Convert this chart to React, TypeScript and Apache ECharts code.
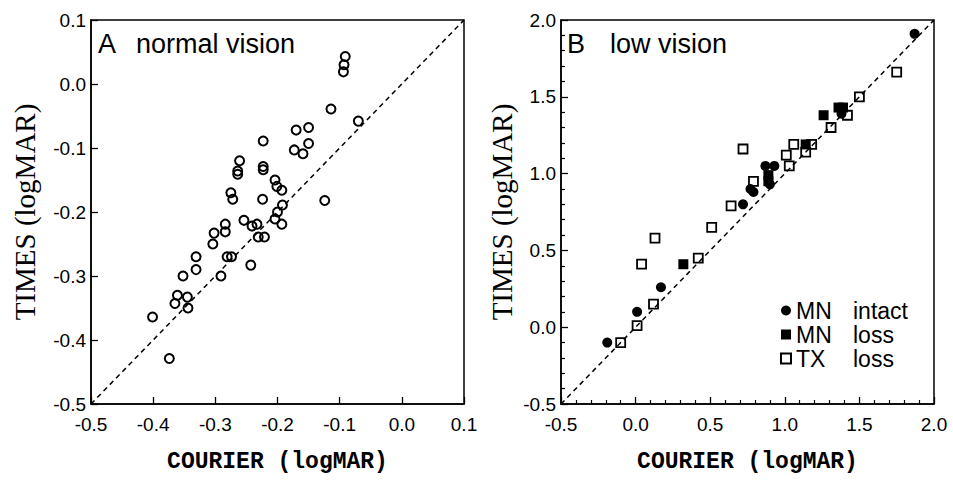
import React, { useEffect, useRef } from "react";
import * as echarts from "echarts";

// Panel A: normal vision
const normalCourier = [-0.091, -0.093, -0.094, -0.114, -0.070, -0.170, -0.150, -0.223, -0.173, -0.159, -0.150, -0.261, -0.264, -0.264, -0.223, -0.223, -0.204, -0.201, -0.193, -0.275, -0.272, -0.224, -0.124, -0.192, -0.200, -0.204, -0.193, -0.254, -0.241, -0.233, -0.231, -0.221, -0.302, -0.284, -0.284, -0.304, -0.281, -0.274, -0.331, -0.331, -0.243, -0.291, -0.352, -0.361, -0.345, -0.365, -0.344, -0.401, -0.374];
const normalTimes = [0.043, 0.030, 0.019, -0.039, -0.058, -0.072, -0.068, -0.089, -0.103, -0.109, -0.093, -0.120, -0.136, -0.141, -0.129, -0.134, -0.150, -0.160, -0.166, -0.170, -0.180, -0.180, -0.182, -0.189, -0.200, -0.211, -0.219, -0.213, -0.222, -0.219, -0.239, -0.239, -0.233, -0.219, -0.231, -0.250, -0.270, -0.270, -0.270, -0.290, -0.283, -0.300, -0.300, -0.330, -0.333, -0.343, -0.350, -0.364, -0.429];

// Panel B: low vision
const mnIntactCourier = [1.87, 0.87, 0.93, 0.90, 0.77, 0.79, 0.72, 1.38, 0.17, 0.01, -0.19];
const mnIntactTimes = [1.91, 1.05, 1.05, 0.93, 0.90, 0.88, 0.80, 1.39, 0.26, 0.10, -0.10];
const mnLossCourier = [1.26, 1.36, 1.39, 1.14, 0.89, 0.89, 0.32];
const mnLossTimes = [1.38, 1.43, 1.43, 1.19, 0.99, 0.95, 0.41];
const txLossCourier = [1.75, 1.50, 1.42, 1.31, 1.18, 1.06, 1.14, 1.01, 1.03, 0.72, 0.79, 0.64, 0.51, 0.13, 0.04, 0.42, 0.12, 0.01, -0.10];
const txLossTimes = [1.66, 1.50, 1.38, 1.30, 1.19, 1.19, 1.14, 1.12, 1.05, 1.16, 0.95, 0.79, 0.65, 0.58, 0.41, 0.45, 0.15, 0.01, -0.10];

// Axis ranges and identity lines
const rangeA = [-0.5, 0.1];
const rangeB = [-0.5, 2.0];
const identityA = [[-0.5, -0.5], [0.1, 0.1]];
const identityB = [[-0.5, -0.5], [2.0, 2.0]];

const xTitle = "COURIER (logMAR)";
const yTitle = "TIMES (logMAR)";

const zip = (xs: number[], ys: number[]) => xs.map((x, i) => [x, ys[i]]);

const SANS = "'Liberation Sans', Arial, Helvetica, sans-serif";

export default function App() {
  const ref = useRef<HTMLDivElement>(null);
  useEffect(() => {
    if (!ref.current) return;
    const chart = echarts.init(ref.current, null, { renderer: "svg" });
    const label = (margin: number) => ({
      color: "#000",
      fontFamily: SANS,
      fontSize: 19,
      margin,
      formatter: (v: number) => v.toFixed(1),
    });
    const axisCommon = (min: number, max: number, interval: number, minor: boolean) => ({
      type: "value",
      min,
      max,
      interval,
      axisLine: { show: true, onZero: false, lineStyle: { color: "#000", width: 1.5 } },
      axisTick: { show: true, inside: true, length: 7, lineStyle: { color: "#000", width: 1.3 } },
      minorTick: minor
        ? { show: true, splitNumber: 5, length: 4, lineStyle: { color: "#000", width: 1.2 } }
        : { show: false },
      splitLine: { show: false },
    });
    const xAxis = (gridIndex: number, r: number[], interval: number, minor: boolean) => ({
      ...axisCommon(r[0], r[1], interval, minor),
      gridIndex,
      name: xTitle,
      nameLocation: "middle",
      nameGap: 46,
      nameTextStyle: {
        color: "#000",
        fontFamily: "'Liberation Mono', 'Courier New', monospace",
        fontWeight: "bold",
        fontSize: 23,
      },
      axisLabel: label(11),
    });
    const yAxis = (gridIndex: number, r: number[], interval: number, minor: boolean, gap: number) => ({
      ...axisCommon(r[0], r[1], interval, minor),
      gridIndex,
      name: yTitle,
      nameLocation: "middle",
      nameRotate: 90,
      nameGap: gap,
      nameTextStyle: {
        color: "#000",
        fontFamily: "'Liberation Serif', 'Times New Roman', serif",
        fontSize: 29,
      },
      axisLabel: label(5),
    });
    const legendRich = {
      a: { fontFamily: SANS, fontSize: 23, width: 57, color: "#000", lineHeight: 26 },
      b: { fontFamily: SANS, fontSize: 23, color: "#000", lineHeight: 26 },
    };
    const titleRich = (w: number) => ({
      a: { fontFamily: SANS, fontSize: 27, fontWeight: "normal", width: w, color: "#000" },
      b: { fontFamily: SANS, fontSize: 27, fontWeight: "normal", color: "#000" },
    });
    chart.setOption({
      animation: false,
      backgroundColor: "#fff",
      grid: [
        { left: 91, top: 20, width: 373, height: 384, show: true, borderColor: "#000", borderWidth: 1.5, backgroundColor: "transparent" },
        { left: 561, top: 20, width: 373, height: 384, show: true, borderColor: "#000", borderWidth: 1.5, backgroundColor: "transparent" },
      ],
      title: [
        {
          text: "{a|A}{b|normal vision}",
          left: 98,
          top: 30,
          padding: 0,
          textStyle: { fontWeight: "normal", rich: titleRich(38) },
        },
        {
          text: "{a|B}{b|low vision}",
          left: 567,
          top: 30,
          padding: 0,
          textStyle: { fontWeight: "normal", rich: titleRich(43) },
        },
      ],
      legend: {
        orient: "vertical",
        left: 780,
        top: 299,
        padding: 0,
        itemGap: 1,
        itemWidth: 10,
        itemHeight: 10,
        data: ["MN intact", "MN loss", "TX loss"],
        formatter: (name: string) => {
          const [p, q] = name.split(" ");
          return `{a|${p}}{b|${q}}`;
        },
        textStyle: { rich: legendRich },
      },
      xAxis: [xAxis(0, rangeA, 0.1, false), xAxis(1, rangeB, 0.5, true)],
      yAxis: [yAxis(0, rangeA, 0.1, false, 52), yAxis(1, rangeB, 0.5, true, 45)],
      series: [
        {
          type: "line",
          xAxisIndex: 0,
          yAxisIndex: 0,
          data: identityA,
          symbol: "none",
          silent: true,
          lineStyle: { color: "#000", width: 1.5, type: [5, 4] },
        },
        {
          type: "line",
          xAxisIndex: 1,
          yAxisIndex: 1,
          data: identityB,
          symbol: "none",
          silent: true,
          lineStyle: { color: "#000", width: 1.5, type: [5, 4] },
        },
        {
          name: "normal",
          type: "scatter",
          xAxisIndex: 0,
          yAxisIndex: 0,
          data: zip(normalCourier, normalTimes),
          symbol: "circle",
          symbolSize: 9,
          itemStyle: { color: "transparent", borderColor: "#000", borderWidth: 2, opacity: 1 },
        },
        {
          name: "TX loss",
          type: "scatter",
          xAxisIndex: 1,
          yAxisIndex: 1,
          data: zip(txLossCourier, txLossTimes),
          symbol: "rect",
          symbolSize: 9,
          itemStyle: { color: "#fff", borderColor: "#000", borderWidth: 1.8, opacity: 1 },
        },
        {
          name: "MN loss",
          type: "scatter",
          xAxisIndex: 1,
          yAxisIndex: 1,
          data: zip(mnLossCourier, mnLossTimes),
          symbol: "rect",
          symbolSize: 10,
          itemStyle: { color: "#000", opacity: 1 },
        },
        {
          name: "MN intact",
          type: "scatter",
          xAxisIndex: 1,
          yAxisIndex: 1,
          data: zip(mnIntactCourier, mnIntactTimes),
          symbol: "circle",
          symbolSize: 10,
          itemStyle: { color: "#000", opacity: 1 },
        },
      ],
    });
    return () => chart.dispose();
  }, []);
  return (
    <div
      ref={ref}
      style={{ position: "absolute", left: 0, top: 0, width: 953, height: 481, background: "#fff" }}
    />
  );
}
